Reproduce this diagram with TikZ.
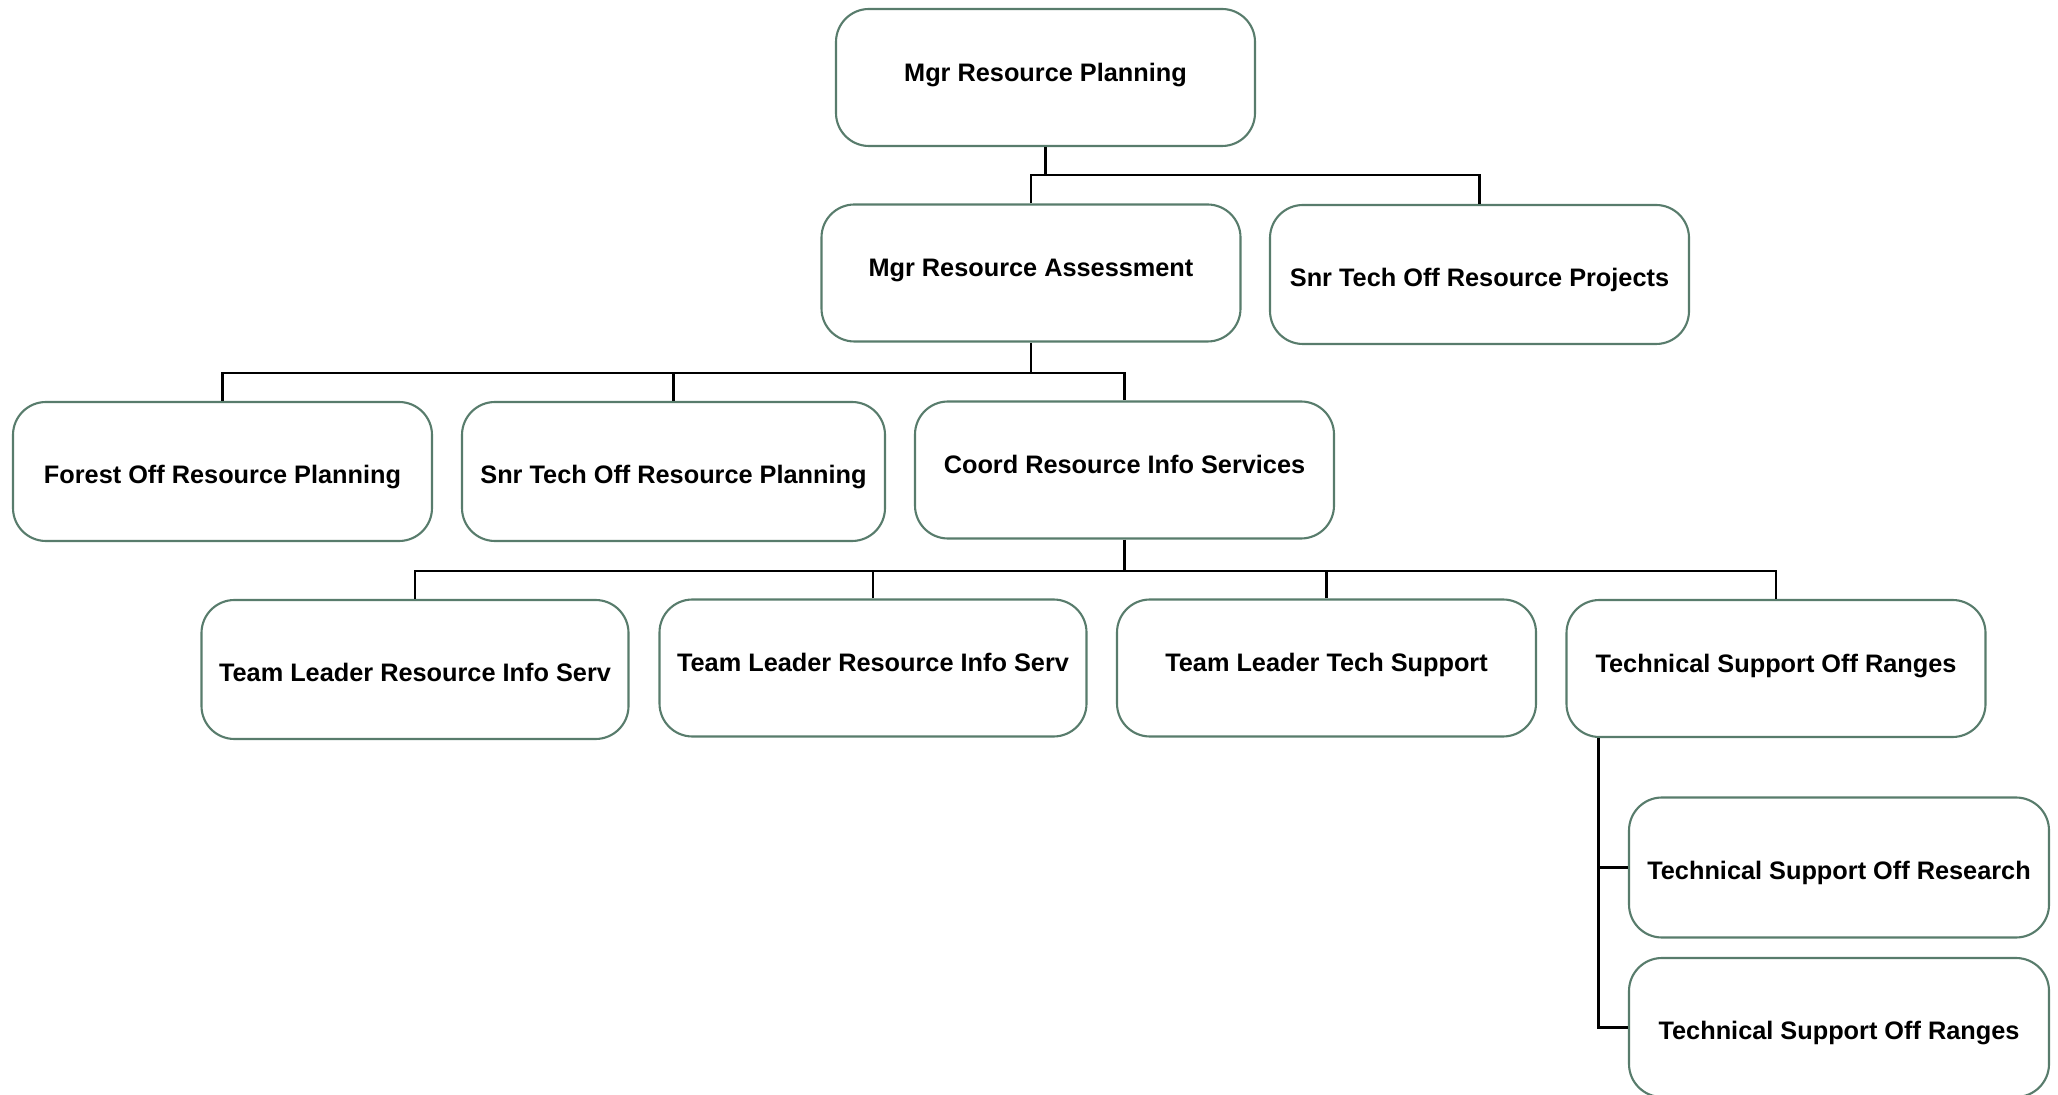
\documentclass[tikz,border=0pt]{standalone}
\usepackage{fontspec}
\setmainfont{Liberation Sans}
\usepackage{tikz}
\usetikzlibrary{shapes,positioning,calc}
\definecolor{orggreen}{RGB}{88,124,108}

\begin{document}
\begin{tikzpicture}[
    orgbox/.style={rectangle, rounded corners=0.33cm, draw=orggreen, line width=0.6pt, fill=white, minimum width=4.19cm, minimum height=1.37cm, inner sep=0pt, align=center, font=\fontsize{7.2}{8.6}\selectfont\bfseries, text height=6.6pt, text depth=0pt},
    raised/.style={text height=5.2pt, text depth=3pt},
    wide/.style={minimum width=4.27cm},
    conn/.style={draw=black, line width=0.6pt}
]
\useasboundingbox (0,0) rectangle (20.58,-10.95);

% Top
\node[orgbox, raised] (root) at (10.455,-0.775) {Mgr Resource Planning};
\node[orgbox, raised] (assess) at (10.31,-2.73) {Mgr Resource Assessment};
\node[orgbox, minimum height=1.39cm] (proj) at (14.795,-2.745) {Snr Tech Off Resource Projects};

% Assessment level
\node[orgbox, minimum height=1.39cm] (forest) at (2.225,-4.715) {Forest Off Resource Planning};
\node[orgbox, minimum height=1.39cm, minimum width=4.23cm] (snrplan) at (6.735,-4.715) {Snr Tech Off Resource Planning};
\node[orgbox, raised] (coord) at (11.245,-4.70) {Coord Resource Info Services};

% Info services level
\node[orgbox, wide, minimum height=1.39cm] (tlinfoA) at (4.15,-6.695) {Team Leader Resource Info Serv};
\node[orgbox, wide, raised] (tlinfoB) at (8.73,-6.68) {Team Leader Resource Info Serv};
\node[orgbox, raised] (tltech) at (13.265,-6.68) {Team Leader Tech Support};
\node[orgbox, raised] (tsranges) at (17.76,-6.685) {Technical Support Off Ranges};

% Ranges level
\node[orgbox, minimum width=4.2cm, minimum height=1.40cm] (tsresearch) at (18.39,-8.675) {Technical Support Off Research};
\node[orgbox, minimum width=4.2cm, minimum height=1.39cm] (tsrangesB) at (18.39,-10.275) {Technical Support Off Ranges};

% Connectors
\coordinate (busA) at (0,-1.75);
\coordinate (busB) at (0,-3.73);
\coordinate (busC) at (0,-5.71);
\coordinate (spine) at ([xshift=0.33cm]tsranges.south west);

\draw[conn] (root.south) -- (root.south |- busA);
\draw[conn] (assess.north) |- (proj.north |- busA) -- (proj.north);

\draw[conn] (assess.south) -- (assess.south |- busB);
\draw[conn] (forest.north) |- (coord.north |- busB) -- (coord.north);
\draw[conn] (snrplan.north) -- (snrplan.north |- busB);

\draw[conn] (coord.south) -- (coord.south |- busC);
\draw[conn] (tlinfoA.north) |- (tsranges.north |- busC) -- (tsranges.north);
\draw[conn] (tlinfoB.north) -- (tlinfoB.north |- busC);
\draw[conn] (tltech.north) -- (tltech.north |- busC);

\draw[conn] (spine) |- (tsrangesB.west);
\draw[conn] (spine |- tsresearch.west) -- (tsresearch.west);

\end{tikzpicture}
\end{document}
